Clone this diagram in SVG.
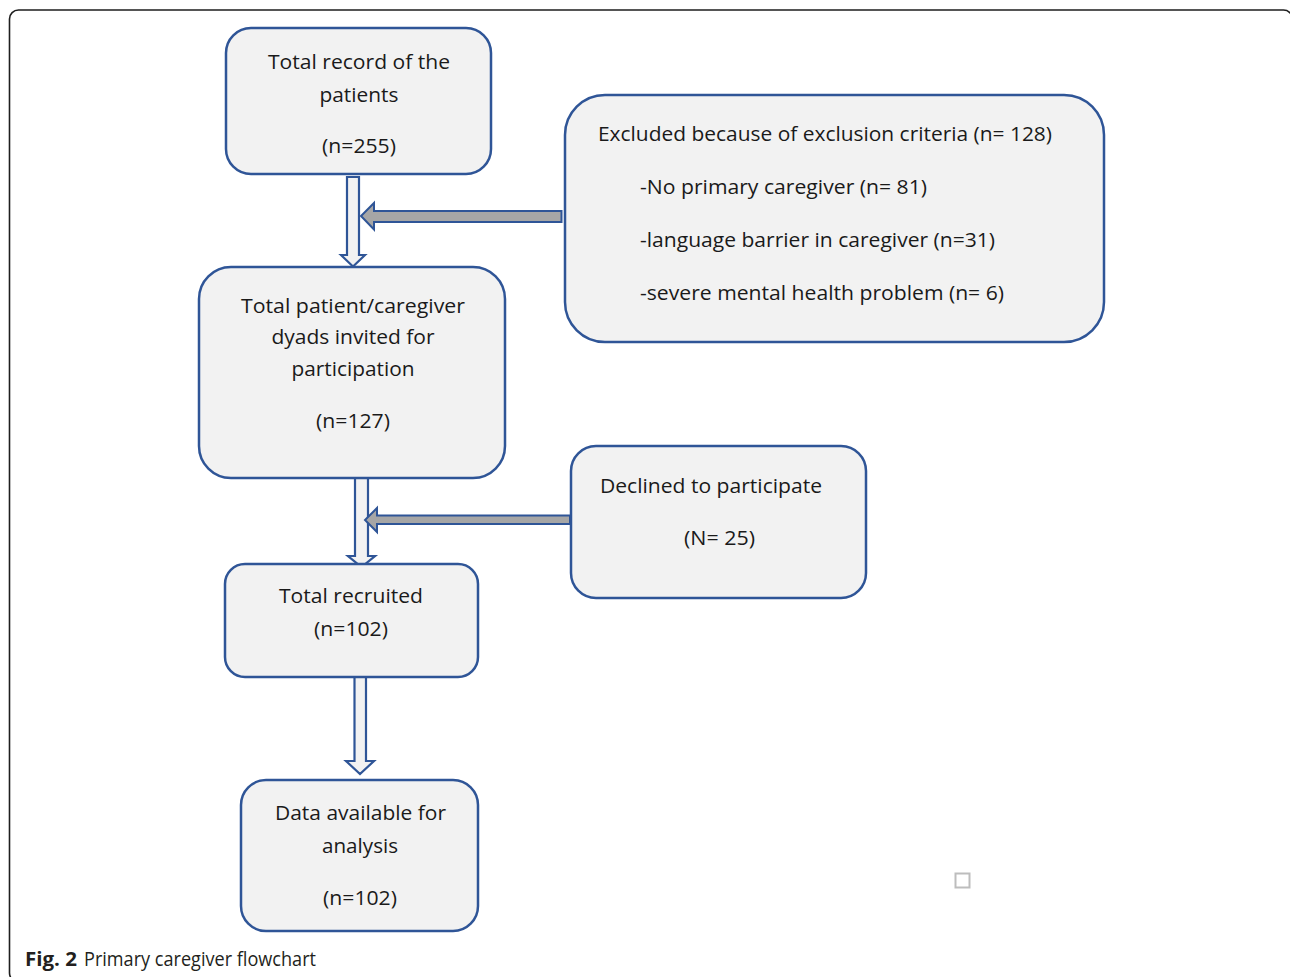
<svg xmlns="http://www.w3.org/2000/svg" width="1290" height="977" viewBox="0 0 1290 977">
<style>
.box{fill:#f2f2f2;stroke:#2f5597;stroke-width:2.5}
.t{font-family:"Open Sans",Lato,"Liberation Sans",sans-serif;font-size:20px;fill:#1a1a1a}
.c{text-anchor:middle}
.hollow{fill:#f2f2f2;stroke:#2f5597;stroke-width:2.2;stroke-linejoin:miter}
.gray{fill:#a6a6a6;stroke:#2f5597;stroke-width:2;stroke-linejoin:miter}
.cap{font-family:"Open Sans","Noto Sans","Liberation Sans",sans-serif;font-size:19.5px;fill:#231f20}
</style>
<rect x="0" y="0" width="1290" height="977" fill="#ffffff"/>
<rect x="9.5" y="10" width="1283" height="972" rx="9" fill="none" stroke="#1e1e1e" stroke-width="1.6"/>

<g id="connectors">
  <polygon class="hollow" points="347,177 359,177 359,255 365,255 353,266.5 341,255 347,255"/>
  <polygon class="gray" points="561.5,211 374,211 374,203 361,216 374,229.5 374,222 561.5,222"/>
  <polygon class="hollow" points="355,476 368,476 368,556 375,556 361.5,567 348,556 355,556"/>
  <polygon class="gray" points="570,515.5 377,515.5 377,508 365,520 377,532 377,524 570,524"/>
  <polygon class="hollow" points="354.5,676 366,676 366,761 374,761 360,774 346,761 354.5,761"/>
</g>

<g id="node-total-record">
  <rect class="box" x="226" y="28" width="265" height="146" rx="25"/>
  <text class="t c" x="359" y="69" textLength="182" lengthAdjust="spacingAndGlyphs">Total record of the</text>
  <text class="t c" x="359" y="102" textLength="79" lengthAdjust="spacingAndGlyphs">patients</text>
  <text class="t c" x="359" y="153" textLength="74" lengthAdjust="spacingAndGlyphs">(n=255)</text>
</g>

<g id="node-excluded">
  <rect class="box" x="565" y="95" width="539" height="247" rx="40"/>
  <text class="t" x="598" y="141" textLength="454" lengthAdjust="spacingAndGlyphs">Excluded because of exclusion criteria (n= 128)</text>
  <text class="t" x="640" y="194" textLength="287" lengthAdjust="spacingAndGlyphs">-No primary caregiver (n= 81)</text>
  <text class="t" x="640" y="247" textLength="355" lengthAdjust="spacingAndGlyphs">-language barrier in caregiver (n=31)</text>
  <text class="t" x="640" y="300" textLength="364" lengthAdjust="spacingAndGlyphs">-severe mental health problem (n= 6)</text>
</g>

<g id="node-invited">
  <rect class="box" x="199" y="267" width="306" height="211" rx="32"/>
  <text class="t c" x="353" y="313" textLength="224" lengthAdjust="spacingAndGlyphs">Total patient/caregiver</text>
  <text class="t c" x="353" y="344" textLength="163" lengthAdjust="spacingAndGlyphs">dyads invited for</text>
  <text class="t c" x="353" y="376" textLength="123" lengthAdjust="spacingAndGlyphs">participation</text>
  <text class="t c" x="353" y="428" textLength="74" lengthAdjust="spacingAndGlyphs">(n=127)</text>
</g>

<g id="node-declined">
  <rect class="box" x="571" y="446" width="295" height="152" rx="25"/>
  <text class="t" x="600" y="493" textLength="222" lengthAdjust="spacingAndGlyphs">Declined to participate</text>
  <text class="t c" x="719.5" y="545" textLength="71" lengthAdjust="spacingAndGlyphs">(N= 25)</text>
</g>

<g id="node-recruited">
  <rect class="box" x="225" y="564" width="253" height="113" rx="20"/>
  <text class="t c" x="351" y="603" textLength="144" lengthAdjust="spacingAndGlyphs">Total recruited</text>
  <text class="t c" x="351" y="636" textLength="74" lengthAdjust="spacingAndGlyphs">(n=102)</text>
</g>

<g id="node-analysis">
  <rect class="box" x="241" y="780" width="237" height="151" rx="25"/>
  <text class="t c" x="360.5" y="820" textLength="171" lengthAdjust="spacingAndGlyphs">Data available for</text>
  <text class="t c" x="360" y="853" textLength="76" lengthAdjust="spacingAndGlyphs">analysis</text>
  <text class="t c" x="360" y="905" textLength="74" lengthAdjust="spacingAndGlyphs">(n=102)</text>
</g>

<rect x="955.5" y="873.5" width="14" height="14" fill="none" stroke="#bdbdbd" stroke-width="2"/>

<g id="caption">
  <text class="cap" x="25" y="966" font-weight="bold" textLength="52" lengthAdjust="spacingAndGlyphs">Fig. 2</text>
  <text class="cap" x="84" y="966" textLength="232" lengthAdjust="spacingAndGlyphs">Primary caregiver flowchart</text>
</g>
</svg>
